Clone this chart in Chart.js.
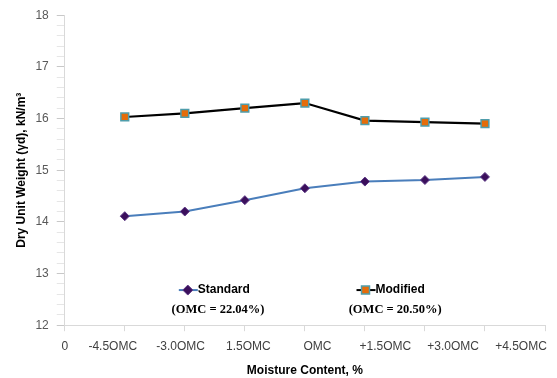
<!DOCTYPE html>
<html>
<head>
<meta charset="utf-8">
<script src="https://cdn.jsdelivr.net/npm/chart.js@4"></script>
<style>
html, body { margin: 0; padding: 0; background: #fff; }
#wrap { width: 557px; height: 378px; }
</style>
</head>
<body>
<div id="wrap"><canvas id="chart"></canvas></div>
<script>
var xValues = [1, 2, 3, 4, 5, 6, 7];
var standardData = [14.11, 14.20, 14.42, 14.65, 14.78, 14.81, 14.87];
var modifiedData = [16.03, 16.10, 16.20, 16.30, 15.96, 15.93, 15.90];
var xTickLabels = ['0', '-4.5OMC', '-3.0OMC', '1.5OMC', 'OMC', '+1.5OMC', '+3.0OMC', '+4.5OMC'];
var seriesNames = ['Standard', 'Modified'];
var omcNotes = ['(OMC = 22.04%)', '(OMC = 20.50%)'];

var sans = "'Liberation Sans', Arial, sans-serif";
var serif = "'Liberation Serif', 'Times New Roman', serif";

function toPoints(arr) {
    return xValues.map(function (x, i) { return { x: x, y: arr[i] }; });
}

function drawMarker(ctx, style, x, y) {
    ctx.save();
    ctx.beginPath();
    if (style === 'diamond') {
        ctx.moveTo(x, y - 5);
        ctx.lineTo(x + 5, y);
        ctx.lineTo(x, y + 5);
        ctx.lineTo(x - 5, y);
        ctx.closePath();
        ctx.fillStyle = '#3b0f5c';
        ctx.strokeStyle = '#5e3a86';
        ctx.lineWidth = 1;
    } else {
        ctx.rect(x - 4, y - 4, 8, 8);
        ctx.fillStyle = '#e46c0a';
        ctx.strokeStyle = '#4f9dab';
        ctx.lineWidth = 1.5;
    }
    ctx.fill();
    ctx.stroke();
    ctx.restore();
}

// legend sits inside the plot, with the OMC note under each entry
var insideLegend = {
    id: 'insideLegend',
    afterDatasetsDraw: function (chart) {
        var ctx = chart.ctx;
        var xs = chart.scales.x;
        var ys = chart.scales.y;
        var spots = [
            { mark: 2.05, note: 1.78, style: 'diamond', line: '#4a7ebb' },
            { mark: 5.01, note: 4.73, style: 'square', line: '#000000' }
        ];
        var rowY = ys.getPixelForValue(12.68);
        var noteY = ys.getPixelForValue(12.29);
        spots.forEach(function (s, i) {
            var mx = xs.getPixelForValue(s.mark);
            ctx.save();
            ctx.strokeStyle = s.line;
            ctx.lineWidth = 2;
            ctx.beginPath();
            ctx.moveTo(mx - 9, rowY);
            ctx.lineTo(mx + 10, rowY);
            ctx.stroke();
            ctx.restore();
            drawMarker(ctx, s.style, mx, rowY);

            ctx.save();
            ctx.fillStyle = '#000';
            ctx.textBaseline = 'middle';
            ctx.textAlign = 'left';
            ctx.font = 'bold 12px ' + sans;
            ctx.fillText(seriesNames[i], mx + 10, rowY);
            ctx.font = 'bold 12.5px ' + serif;
            ctx.fillText(omcNotes[i], xs.getPixelForValue(s.note), noteY);
            ctx.restore();
        });
    }
};

new Chart(document.getElementById('chart'), {
    type: 'line',
    data: {
        datasets: [{
            label: seriesNames[0],
            data: toPoints(standardData),
            borderColor: '#4a7ebb',
            borderWidth: 2,
            pointStyle: 'rectRot',
            pointRadius: 4.5,
            pointBackgroundColor: '#3b0f5c',
            pointBorderColor: '#5e3a86',
            pointBorderWidth: 1,
            tension: 0,
            fill: false
        }, {
            label: seriesNames[1],
            data: toPoints(modifiedData),
            borderColor: '#000000',
            borderWidth: 2.2,
            pointStyle: 'rect',
            pointRadius: 5.5,
            pointBackgroundColor: '#e46c0a',
            pointBorderColor: '#4f9dab',
            pointBorderWidth: 1.5,
            tension: 0,
            fill: false
        }]
    },
    options: {
        responsive: true,
        maintainAspectRatio: false,
        animation: false,
        layout: { padding: { top: 9, right: 12, bottom: 0, left: 0 } },
        plugins: {
            legend: { display: false },
            tooltip: { enabled: false }
        },
        scales: {
            x: {
                type: 'linear',
                position: 'bottom',
                min: 0,
                max: 8,
                weight: 0,
                ticks: { display: false, stepSize: 1 },
                grid: { drawOnChartArea: false, tickLength: 6, color: '#d9d9d9' },
                border: { color: '#d9d9d9' }
            },
            x2: {
                type: 'linear',
                position: 'bottom',
                min: 0,
                max: 8,
                weight: 1,
                afterBuildTicks: function (axis) {
                    axis.ticks = [0, 0.8, 1.93, 3.06, 4.21, 5.34, 6.47, 7.6].map(function (v) { return { value: v }; });
                },
                ticks: {
                    autoSkip: false,
                    maxRotation: 0,
                    padding: 8,
                    color: '#404040',
                    font: { family: sans, size: 12 },
                    callback: function (v, i) { return xTickLabels[i]; }
                },
                grid: { display: false, drawTicks: false },
                border: { display: false },
                title: {
                    display: true,
                    text: 'Moisture Content, %',
                    color: '#000',
                    font: { family: sans, size: 12, weight: 'bold' },
                    padding: { top: 2, bottom: 0 }
                }
            },
            y: {
                min: 12,
                max: 18,
                ticks: {
                    stepSize: 0.2,
                    autoSkip: false,
                    padding: 8,
                    color: '#595959',
                    font: { family: sans, size: 12 },
                    callback: function (v) {
                        var r = Math.round(v);
                        return Math.abs(v - r) < 1e-6 ? String(r) : '';
                    }
                },
                grid: {
                    drawOnChartArea: false,
                    tickLength: 8,
                    tickColor: function (c) {
                        var v = c.tick ? c.tick.value : 0;
                        return Math.abs(v - Math.round(v)) < 1e-6 ? '#c8c8c8' : '#e6e6e6';
                    }
                },
                border: { color: '#d9d9d9' },
                title: {
                    display: true,
                    text: 'Dry Unit Weight (γd), kN/m³',
                    color: '#000',
                    font: { family: sans, size: 12, weight: 'bold' },
                    padding: { top: 14, bottom: -1 }
                }
            }
        }
    },
    plugins: [insideLegend]
});
</script>
</body>
</html>
